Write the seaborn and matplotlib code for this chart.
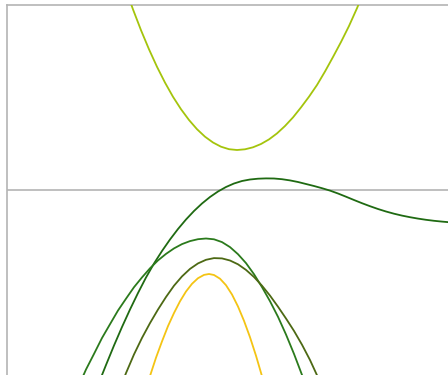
import matplotlib
matplotlib.use("Agg")
import matplotlib.pyplot as plt
import seaborn as sns

sns.set_theme(style="white")

# Curve samples (x, y); the horizontal reference line sits at y = 0
upper_x = [118, 126, 134, 142, 150, 158, 166, 174, 182, 190, 198, 206, 214, 222, 230,
           238, 246, 254, 262, 270, 278, 286, 294, 302, 310, 318, 326, 334, 342, 350, 358]
upper_y = [203, 180.6, 159.8, 140.7, 123.2, 107.4, 93.2, 80.8, 70, 60.8, 53.3, 47.5, 43.3, 40.8, 40,
           40.7, 42.7, 46, 50.6, 56.6, 64, 72.6, 82.6, 93.3, 105, 118.5, 133, 148, 164, 181.8, 201]

wave_x = [91, 99, 107, 115, 123, 131, 139, 147, 155, 163, 171, 179, 187, 195, 203, 211, 219,
          227, 235, 243, 251, 259, 267, 275, 283, 291, 299, 307, 315, 323, 331, 339, 347,
          355, 363, 371, 379, 387, 395, 403, 411, 419, 427, 435, 443]
wave_y = [-195, -175, -155.5, -137, -119.5, -103, -87.5, -73.5, -61, -49.5, -39, -29.5, -21,
          -13.5, -7, -1.5, 3, 6.5, 9, 10.5, 11.3, 11.6, 11.5, 10.8, 9.6, 8, 6, 4, 1.8, -0.6,
          -3.5, -6.7, -10, -13.2, -16.2, -19, -21.5, -23.7, -25.6, -27.2, -28.6, -29.8,
          -30.8, -31.6, -32.3]

green_x = [71, 79, 87, 95, 103, 111, 119, 127, 135, 143, 151, 159, 167, 175, 183, 191, 199,
           207, 215, 223, 231, 239, 247, 255, 263, 271, 279, 287, 295, 303]
green_y = [-197.5, -179.5, -163.9, -148, -134.2, -120.5, -108.7, -97.2, -87.4, -78.3, -70.4,
           -63.9, -58.4, -54.1, -51.1, -49.2, -48.5, -49.3, -52.1, -57.1, -64.2, -73.1, -84.2,
           -97.1, -111.2, -126.8, -144.5, -163.9, -184.9, -207.5]

olive_x = [111, 119, 127, 135, 143, 151, 159, 167, 175, 183, 191, 199, 207, 215, 223, 231,
           239, 247, 255, 263, 271, 279, 287, 295, 303, 311, 319]
olive_y = [-203.3, -183.1, -164.4, -147.9, -133.1, -119.5, -107, -95.7, -86.4, -78.9, -73.4,
           -69.8, -68.1, -68.4, -70.5, -74.3, -79.9, -87, -95.7, -105.6, -116.7, -128.5,
           -140.9, -154.7, -170, -187.4, -205.8]

gold_x = [139, 143, 149, 155, 161, 167, 173, 179, 185, 191, 197, 202, 207, 213, 219, 225,
          231, 237, 243, 249, 255, 261]
gold_y = [-200.3, -186, -167.7, -151.4, -136.1, -123, -111.3, -101.5, -93.8, -88.2, -84.9,
          -84, -85, -88.7, -95.2, -104.5, -116.5, -130.8, -147.2, -165.7, -186.2, -209.3]

series = [
    (upper_x, upper_y, "#a4c40c"),
    (wave_x, wave_y, "#1f6a12"),
    (green_x, green_y, "#2b7a1c"),
    (olive_x, olive_y, "#4d6914"),
    (gold_x, gold_y, "#f4c414"),
]

fig = plt.figure(figsize=(4.48, 3.75), dpi=100)
ax = fig.add_axes([7 / 448, 0, 441 / 448, 370 / 375])

ax.axhline(0, color="#b4b4b4", lw=1.2, zorder=1)
for xs, ys, col in series:
    sns.lineplot(x=xs, y=ys, color=col, linewidth=1.3, sort=False, ax=ax, zorder=3)

ax.set_xlim(0, 441)
ax.set_ylim(-185, 185)
ax.set_xticks([])
ax.set_yticks([])
ax.set_xlabel("")
ax.set_ylabel("")
for side in ("right", "bottom"):
    ax.spines[side].set_visible(False)
for side in ("top", "left"):
    ax.spines[side].set_color("#b4b4b4")
    ax.spines[side].set_linewidth(1.2)

fig.savefig("out.png", dpi=100)
